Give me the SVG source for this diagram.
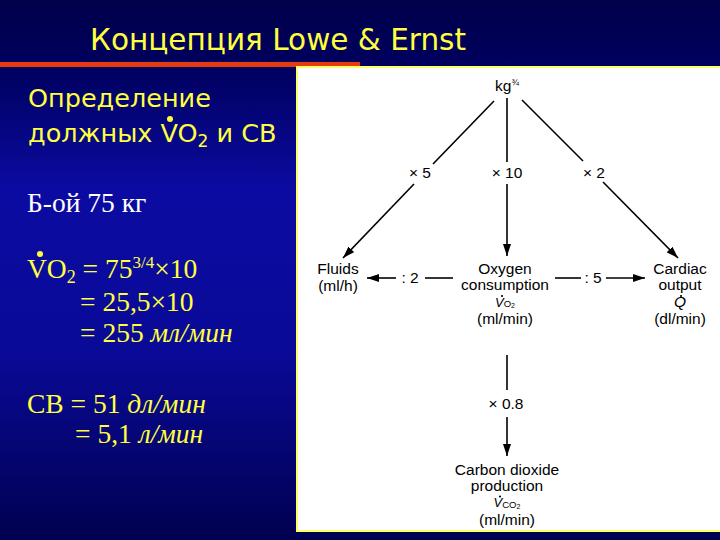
<svg xmlns="http://www.w3.org/2000/svg" width="720" height="540" viewBox="0 0 720 540">
<defs>
<linearGradient id="bg" x1="0" y1="0" x2="0" y2="1">
<stop offset="0" stop-color="#00004a"/>
<stop offset="0.13" stop-color="#000060"/>
<stop offset="0.35" stop-color="#0b0ba2"/>
<stop offset="0.65" stop-color="#0a0a98"/>
<stop offset="1" stop-color="#000050"/>
</linearGradient>
<marker id="ah" viewBox="0 0 12 8" refX="12" refY="4" markerWidth="12" markerHeight="8" markerUnits="userSpaceOnUse" orient="auto">
<path d="M0,0 L12,4 L0,8 Z" fill="#000"/>
</marker>
<style>
.ttl{font-family:"DejaVu Sans",sans-serif;fill:#ffff40}
.ser{font-family:"Liberation Serif",serif;font-size:27.5px}
.y{fill:#ffff40}
.w{fill:#ffffff}
.lb{font-family:"Liberation Sans",Arial,sans-serif;font-size:15.5px;fill:#000;text-anchor:middle}
.ln{stroke:#000;stroke-width:1.6;fill:none}
</style>
</defs>
<rect width="720" height="540" fill="url(#bg)"/>
<rect x="0" y="62" width="360" height="5" fill="#e83a10"/>

<g id="title">
<text class="ttl" x="90" y="50" font-size="29.5">Концепция Lowe &amp; Ernst</text>
</g>

<g id="left-text">
<text class="ttl" x="28" y="107" font-size="25.5">Определение</text>
<text class="ttl" x="28" y="142" font-size="25.5">должных <tspan>V</tspan><tspan>O</tspan><tspan font-size="17" dy="5">2</tspan><tspan dy="-5"> и СВ</tspan></text>
<circle cx="170" cy="119" r="3" fill="#ffff40"/>
<text class="ser w" x="27" y="212">Б-ой 75 кг</text>
<text class="ser y" x="27" y="278">VO<tspan font-size="18" dy="5">2</tspan><tspan dy="-5"> = 75</tspan><tspan font-size="17" dy="-10">3/4</tspan><tspan dy="10">×10</tspan></text>
<circle cx="40" cy="254" r="3" fill="#ffff40"/>
<text class="ser y" x="80" y="311">= 25,5×10</text>
<text class="ser y" x="80" y="342">= 255 <tspan font-style="italic">мл/мин</tspan></text>
<text class="ser y" x="27" y="413">СВ = 51 <tspan font-style="italic">дл/мин</tspan></text>
<text class="ser y" x="75" y="443">= 5,1 <tspan font-style="italic">л/мин</tspan></text>
</g>

<rect x="297" y="67" width="425" height="464" fill="#ffffff" stroke="#ffff66" stroke-width="2"/>

<g id="connectors">
<line class="ln" x1="494" y1="101" x2="433" y2="164"/>
<line class="ln" x1="414" y1="184" x2="343" y2="258" marker-end="url(#ah)"/>
<line class="ln" x1="507" y1="98" x2="507" y2="162"/>
<line class="ln" x1="507" y1="184" x2="507" y2="256" marker-end="url(#ah)"/>
<line class="ln" x1="522" y1="100" x2="583" y2="161"/>
<line class="ln" x1="603" y1="182" x2="678" y2="258" marker-end="url(#ah)"/>
<line class="ln" x1="453" y1="278" x2="425" y2="278"/>
<line class="ln" x1="396" y1="278" x2="367" y2="278" marker-end="url(#ah)"/>
<line class="ln" x1="555" y1="278" x2="581" y2="278"/>
<line class="ln" x1="606" y1="278" x2="645" y2="278" marker-end="url(#ah)"/>
<line class="ln" x1="507" y1="355" x2="507" y2="390"/>
<line class="ln" x1="507" y1="417" x2="507" y2="456" marker-end="url(#ah)"/>
<text class="lb" x="420" y="178">× 5</text>
<text class="lb" x="507" y="178">× 10</text>
<text class="lb" x="594" y="178">× 2</text>
<text class="lb" x="410" y="283">: 2</text>
<text class="lb" x="593" y="283">: 5</text>
<text class="lb" x="506" y="409">× 0.8</text>
</g>

<g id="kg">
<text class="lb" x="507" y="91">kg<tspan font-size="9" dy="-6">¾</tspan></text>
</g>

<g id="fluids">
<text class="lb" x="338" y="274">Fluids</text>
<text class="lb" x="338" y="291">(ml/h)</text>
</g>

<g id="oxygen">
<text class="lb" x="505" y="274">Oxygen</text>
<text class="lb" x="505" y="290">consumption</text>
<text class="lb" x="505" y="306.5"><tspan font-style="italic" font-size="13">V</tspan><tspan font-size="9.5" dy="0.5">O</tspan><tspan font-size="7" dy="1">2</tspan></text>
<circle cx="502" cy="296" r="1.1" fill="#000"/>
<text class="lb" x="505" y="324">(ml/min)</text>
</g>

<g id="cardiac">
<text class="lb" x="680" y="274">Cardiac</text>
<text class="lb" x="680" y="290">output</text>
<text class="lb" x="680" y="306.5" font-style="italic" font-size="14">Q</text>
<circle cx="681" cy="296" r="1.1" fill="#000"/>
<text class="lb" x="680" y="324">(dl/min)</text>
</g>

<g id="co2">
<text class="lb" x="507" y="475">Carbon dioxide</text>
<text class="lb" x="507" y="491">production</text>
<text class="lb" x="507" y="507"><tspan font-style="italic" font-size="13">V</tspan><tspan font-size="9.5" dy="0.5">CO</tspan><tspan font-size="7" dy="1">2</tspan></text>
<circle cx="500" cy="496.5" r="1.1" fill="#000"/>
<text class="lb" x="507" y="525">(ml/min)</text>
</g>
</svg>
